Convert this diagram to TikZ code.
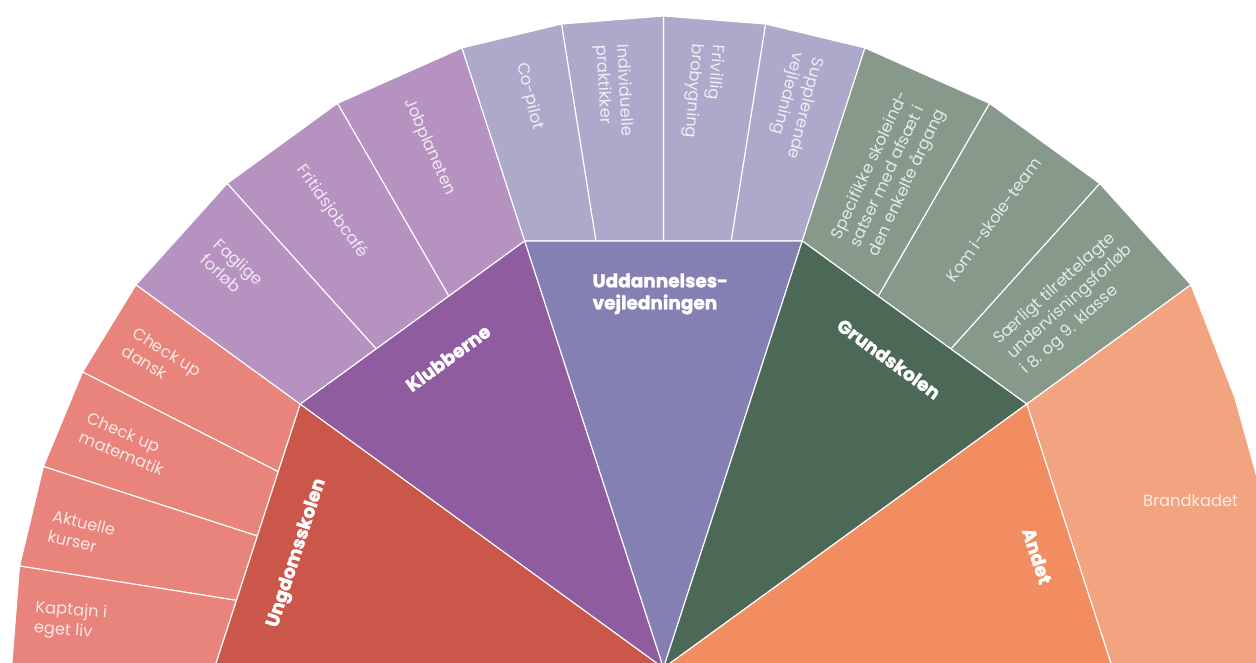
\documentclass[tikz,border=0pt]{standalone}
\usepackage{fontspec}
\newfontfamily\pop{Poppins}
\newfontfamily\popheavy{Poppins}[BoldFeatures={FakeBold=1.6}]
\usetikzlibrary{calc}
\definecolor{uIn}{HTML}{CB574A}
\definecolor{uOut}{HTML}{E8847C}
\definecolor{kIn}{HTML}{905CA0}
\definecolor{kOut}{HTML}{B692C1}
\definecolor{dIn}{HTML}{8580B3}
\definecolor{dOut}{HTML}{ADA9CB}
\definecolor{gIn}{HTML}{4C6957}
\definecolor{gOut}{HTML}{86998B}
\definecolor{aIn}{HTML}{F28D61}
\definecolor{aOut}{HTML}{F2A380}
\begin{document}
\begin{tikzpicture}[x=1pt,y=1pt,
  seg/.style={draw=white, line width=1.1pt, line join=round},
  sublabel/.style={font=\pop\fontsize{16.3}{20.5}\selectfont, text=white, text opacity=0.8, align=left, inner sep=0pt, anchor=west},
  mainlabel/.style={font=\popheavy\bfseries\fontsize{18.5}{22}\selectfont, text=white, align=left, inner sep=0pt}]
\useasboundingbox (0,0) rectangle (1256,662);
\clip (0,0) rectangle (1256,662);
\coordinate (C) at (663.5,-6);
% inner polygon vertices
\foreach \a in {0,36,72,108,144,180} {\coordinate (i\a) at ($(C)+(\a:449)$);}
% inner chord points
\foreach \a/\r in {153/432.35,162/427.03,171/432.35,132/429.38,120/429.38,99/432.35,90/427.03,81/432.35,60/429.38,48/429.38} {\coordinate (c\a) at ($(C)+(\a:\r)$);}
% outer vertices
\foreach \a in {180,171,162,153,144,132,120,108,99,90,81,72,60,48,36} {\coordinate (o\a) at ($(C)+(\a:652)$);}
\coordinate (oA1) at (1235,264);
\coordinate (oA2) at (1310,-6);
% outer ring: Ungdomsskolen
\filldraw[seg, fill=uOut] (i144) -- (o144) -- (o153) -- (c153) -- cycle;
\filldraw[seg, fill=uOut] (c153) -- (o153) -- (o162) -- (c162) -- cycle;
\filldraw[seg, fill=uOut] (c162) -- (o162) -- (o171) -- (c171) -- cycle;
\filldraw[seg, fill=uOut] (c171) -- (o171) -- (o180) -- (i180) -- cycle;
% Klubberne
\filldraw[seg, fill=kOut] (i108) -- (o108) -- (o120) -- (c120) -- cycle;
\filldraw[seg, fill=kOut] (c120) -- (o120) -- (o132) -- (c132) -- cycle;
\filldraw[seg, fill=kOut] (c132) -- (o132) -- (o144) -- (i144) -- cycle;
% Uddannelsesvejledningen
\filldraw[seg, fill=dOut] (i72) -- (o72) -- (o81) -- (c81) -- cycle;
\filldraw[seg, fill=dOut] (c81) -- (o81) -- (o90) -- (c90) -- cycle;
\filldraw[seg, fill=dOut] (c90) -- (o90) -- (o99) -- (c99) -- cycle;
\filldraw[seg, fill=dOut] (c99) -- (o99) -- (o108) -- (i108) -- cycle;
% Grundskolen
\filldraw[seg, fill=gOut] (i36) -- (o36) -- (o48) -- (c48) -- cycle;
\filldraw[seg, fill=gOut] (c48) -- (o48) -- (o60) -- (c60) -- cycle;
\filldraw[seg, fill=gOut] (c60) -- (o60) -- (o72) -- (i72) -- cycle;
% Andet
\filldraw[seg, fill=aOut] (i0) -- (oA2) -- (oA1) -- (o36) -- (i36) -- cycle;
% inner wedges
\filldraw[seg, fill=uIn] (C) -- (i180) -- (i144) -- cycle;
\filldraw[seg, fill=kIn] (C) -- (i144) -- (i108) -- cycle;
\filldraw[seg, fill=dIn] (C) -- (i108) -- (i72) -- cycle;
\filldraw[seg, fill=gIn] (C) -- (i72) -- (i36) -- cycle;
\filldraw[seg, fill=aIn] (C) -- (i36) -- (i0) -- cycle;
% main labels
\node[mainlabel, rotate=72] (mU) at ($(C)+(162.6:384)$) {Ungdomsskolen};
\node[mainlabel, rotate=36] (mK) at ($(C)+(124.8:377.5)$) {Klubberne};
\node[mainlabel] (mD) at ($(C)+(90.5:374)$) {Uddannelses-\\vejledningen};
\node[mainlabel, rotate=-36] (mG) at ($(C)+(53.9:382.5)$) {Grundskolen};
\node[mainlabel, rotate=-72] (mA) at ($(C)+(16.7:390)$) {Andet};
% sub labels
\node[sublabel, rotate=-31.5] (s1) at ($(C)+(148.5:627)$) {Check up\\dansk};
\node[sublabel, rotate=-22.5] (s2) at ($(C)+(157.4:628)$) {Check up\\matematik};
\node[sublabel, rotate=-13.5] (s3) at ($(C)+(166.9:629.5)$) {Aktuelle\\kurser};
\node[sublabel, rotate=-4.5] (s4) at ($(C)+(175.5:631)$) {Kaptajn i\\eget liv};
\node[sublabel, rotate=-42] (s5) at ($(C)+(137.3:617)$) {Faglige\\forløb};
\node[sublabel, rotate=-54] (s6) at ($(C)+(126:619)$) {Fritidsjobcafé};
\node[sublabel, rotate=-66] (s7) at ($(C)+(114.2:623)$) {Jobplaneten};
\node[sublabel, rotate=-76.5] (s8) at ($(C)+(103.2:621)$) {Co-pilot};
\node[sublabel, rotate=-87] (s9) at ($(C)+(94.8:626)$) {Individuelle\\praktikker};
\node[sublabel, rotate=-94.5] (s10) at ($(C)+(86:625.5)$) {Frivillig\\brobygning};
\node[sublabel, rotate=-104] (s11) at ($(C)+(76.8:629.6)$) {Supplerende\\vejledning};
\node[sublabel, rotate=65] (s12) at ($(C)+(65.5:462.5)$) {Specifikke skoleind-\\satser med afsæt i\\den enkelte årgang};
\node[sublabel, rotate=54] (s13) at ($(C)+(53.6:482)$) {Kom i-skole-team};
\node[sublabel, rotate=42] (s14) at ($(C)+(41.9:466)$) {Særligt tilrettelagte\\undervisningsforløb\\i 8. og 9. klasse};
\node[sublabel, anchor=center] (s15) at ($(C)+(17.6:553)$) {Brandkadet};
\end{tikzpicture}
\end{document}
